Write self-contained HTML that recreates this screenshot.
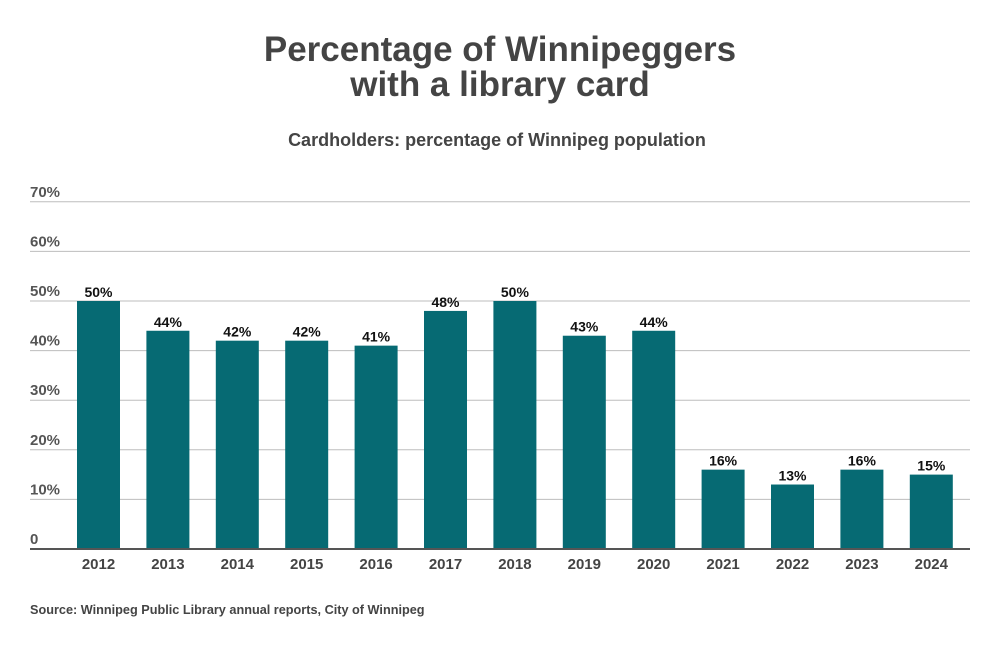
<!DOCTYPE html>
<html><head><meta charset="utf-8"><style>
body{margin:0;background:#fff;font-family:"Liberation Sans",sans-serif;}
svg{display:block}
</style></head><body>
<svg width="1000" height="646" id="c">
<text x="500" y="61" text-anchor="middle" font-size="35" font-weight="bold" fill="#444">Percentage of Winnipeggers</text>
<text x="500" y="96" text-anchor="middle" font-size="35" font-weight="bold" fill="#444">with a library card</text>
<text x="497" y="146" text-anchor="middle" font-size="18" font-weight="bold" fill="#444">Cardholders: percentage of Winnipeg population</text>
<text x="30" y="614" font-size="12.7" font-weight="bold" fill="#444">Source: Winnipeg Public Library annual reports, City of Winnipeg</text>
<g id="grid"></g><g id="bars"></g>
</svg>
<script>
const years=["2012","2013","2014","2015","2016","2017","2018","2019","2020","2021","2022","2023","2024"];
const values=[50,44,42,42,41,48,50,43,44,16,13,16,15];
const ticks=[0,10,20,30,40,50,60,70];
const tickLabels=["0","10%","20%","30%","40%","50%","60%","70%"];
const ns="http://www.w3.org/2000/svg";
const y0=549,pxPer=49.6/10;
const y=v=>y0-v*pxPer;
const x=i=>77+i*69.4;
const bw=43;
function mk(t,a,p){const e=document.createElementNS(ns,t);for(const k in a)e.setAttribute(k,a[k]);p.appendChild(e);return e;}
const g=document.getElementById("grid"),b=document.getElementById("bars");
ticks.forEach((t,i)=>{
 if(t>0){const l=mk("line",{x1:30,x2:970,y1:y(t),y2:y(t),stroke:"#bdbdbd","stroke-width":1},g);
 
 }
 const tx=mk("text",{x:30,y:y(t)-5,"font-size":15,"font-weight":"bold",fill:"#555"},g);
 tx.textContent=tickLabels[i];
 
 
});
values.forEach((v,i)=>{
 const r=mk("rect",{x:x(i),y:y(v),width:bw,height:y0-y(v),fill:"#066a73"},b);
 
 
 const lt=mk("text",{x:x(i)+bw/2,y:y(v)-4,"text-anchor":"middle","font-size":14,"font-weight":"bold",fill:"#111"},b);
 lt.textContent=v+"%";
 
 
 const xt=mk("text",{x:x(i)+bw/2,y:569,"text-anchor":"middle","font-size":15,"font-weight":"bold",fill:"#444"},b);
 xt.textContent=years[i];
 
 
});
const ax=mk("line",{x1:30,x2:970,y1:y0,y2:y0,stroke:"#555","stroke-width":2},b);


</script>
</body></html>
